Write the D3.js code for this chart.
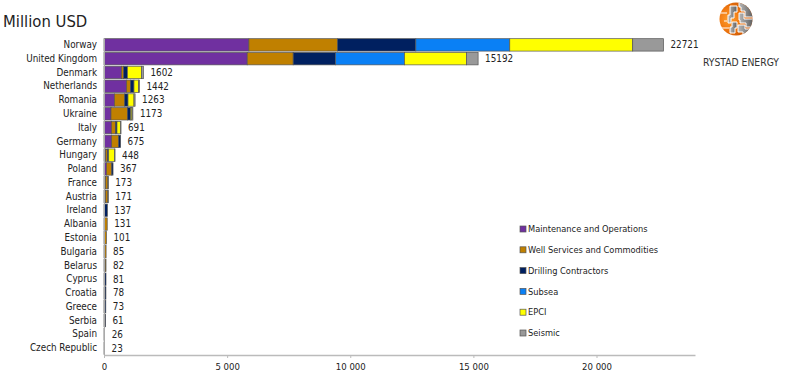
<!DOCTYPE html>
<html>
<head>
<meta charset="utf-8">
<script src="https://cdn.jsdelivr.net/npm/d3@7"></script>
<style>
  body { margin: 0; background: #fff; }
  svg { display: block; font-family: "DejaVu Sans Condensed", "DejaVu Sans", sans-serif; }
  svg text { font-family: "DejaVu Sans Condensed", "DejaVu Sans", sans-serif; }
</style>
</head>
<body>
<svg width="787" height="371"></svg>
<script>
"use strict";

// 국가 목록 (위에서 아래 순서)
const countries = ["Norway", "United Kingdom", "Denmark", "Netherlands", "Romania", "Ukraine",
  "Italy", "Germany", "Hungary", "Poland", "France", "Austria", "Ireland", "Albania", "Estonia",
  "Bulgaria", "Belarus", "Cyprus", "Croatia", "Greece", "Serbia", "Spain", "Czech Republic"];

const totals = [22721, 15192, 1602, 1442, 1263, 1173, 691, 675, 448, 367, 173, 171, 137, 131, 101,
  85, 82, 81, 78, 73, 61, 26, 23];

const segments = ["Maintenance and Operations", "Well Services and Commodities",
  "Drilling Contractors", "Subsea", "EPCI", "Seismic"];

// 세그먼트별 값
const maintenance = [5885, 5816, 706, 921, 422, 284, 300, 312, 70, 97, 60, 60, 20, 21, 21, 15, 50, 0, 40, 0, 0, 0, 0];
const wellServices = [3600, 1867, 93, 150, 418, 666, 162, 284, 68, 216, 100, 100, 0, 110, 80, 70, 32, 0, 0, 13, 40, 0, 0];
const drilling = [3178, 1720, 150, 146, 135, 135, 65, 79, 53, 54, 13, 11, 117, 0, 0, 0, 0, 81, 38, 60, 21, 0, 0];
const subsea = [3815, 2800, 0, 0, 0, 0, 0, 0, 0, 0, 0, 0, 0, 0, 0, 0, 0, 0, 0, 0, 0, 0, 0];
const epci = [4992, 2512, 569, 190, 243, 50, 150, 0, 243, 0, 0, 0, 0, 0, 0, 0, 0, 0, 0, 0, 0, 0, 0];
const seismic = [1251, 477, 84, 35, 45, 38, 14, 0, 14, 0, 0, 0, 0, 0, 0, 0, 0, 0, 0, 0, 0, 26, 23];

const xTicks = [0, 5000, 10000, 15000, 20000];
const colors = ["#7030a0", "#c08000", "#002060", "#0a80f5", "#ffff00", "#999999"];

const svg = d3.select("svg");

const x = d3.scaleLinear().domain([0, 24000]).range([104, 695]);
const y = d3.scaleBand().domain(countries).range([38, 355]).paddingInner(0.1).paddingOuter(0.05);

const rows = countries.map((c, i) => ({
  country: c,
  "Maintenance and Operations": maintenance[i],
  "Well Services and Commodities": wellServices[i],
  "Drilling Contractors": drilling[i],
  "Subsea": subsea[i],
  "EPCI": epci[i],
  "Seismic": seismic[i],
  total: totals[i]
}));

const stacked = d3.stack().keys(segments)(rows);

// 제목
svg.append("text")
  .attr("x", 3)
  .attr("y", 27)
  .style("font-size", "16.5px")
  .style("fill", "#222")
  .text("Million USD");

// 막대
svg.append("g")
  .selectAll("g")
  .data(stacked)
  .join("g")
  .attr("fill", (d, i) => colors[i])
  .selectAll("rect")
  .data(d => d.filter(p => p[1] - p[0] > 0))
  .join("rect")
  .attr("x", d => x(d[0]))
  .attr("y", d => y(d.data.country))
  .attr("width", d => x(d[1]) - x(d[0]))
  .attr("height", y.bandwidth())
  .attr("stroke", "#555")
  .attr("stroke-width", 0.7);

// 합계 라벨
svg.append("g")
  .selectAll("text")
  .data(rows)
  .join("text")
  .attr("x", d => x(d.total) + 7)
  .attr("y", d => y(d.country) + y.bandwidth() / 2)
  .attr("dy", "0.35em")
  .style("font-size", "9.8px")
  .style("fill", "#222")
  .text(d => d.total);

// 세로축 (국가)
const yAxis = svg.append("g")
  .attr("transform", "translate(104,0)")
  .call(d3.axisLeft(y).tickSize(0).tickPadding(7));
yAxis.select(".domain").attr("stroke", "#aaa");
yAxis.selectAll("text").style("font-size", "9.8px").style("fill", "#222");

// 가로축
const xAxis = svg.append("g")
  .attr("transform", "translate(0,355)")
  .call(d3.axisBottom(x).tickValues(xTicks).tickSize(3).tickSizeOuter(0).tickPadding(5)
    .tickFormat(d => d3.format(",")(d).replace(",", " ")));
xAxis.select(".domain").attr("stroke", "#bbb").attr("stroke-width", 1.5);
xAxis.selectAll("line").attr("stroke", "#bbb");
xAxis.selectAll("text").style("font-size", "9.5px").style("fill", "#222");

// 범례
const legend = svg.append("g")
  .selectAll("g")
  .data(segments)
  .join("g")
  .attr("transform", (d, i) => `translate(520,${229 + i * 20.8})`);
legend.append("rect")
  .attr("x", 0).attr("y", -3)
  .attr("width", 6).attr("height", 6)
  .attr("fill", (d, i) => colors[i])
  .attr("stroke", "#555").attr("stroke-width", 0.7);
legend.append("text")
  .attr("x", 8)
  .attr("dy", "0.35em")
  .style("font-size", "9.2px")
  .style("fill", "#222")
  .text(d => d);

// 로고 (대략적인 모양)
const defs = svg.append("defs");
const grad = defs.append("radialGradient").attr("id", "globe").attr("cx", "30%").attr("cy", "50%").attr("r", "75%");
grad.append("stop").attr("offset", "0%").attr("stop-color", "#ffa030");
grad.append("stop").attr("offset", "45%").attr("stop-color", "#f07810");
grad.append("stop").attr("offset", "100%").attr("stop-color", "#b84800");
const grayGrad = defs.append("linearGradient").attr("id", "globeGray").attr("x1", "0").attr("x2", "1");
grayGrad.append("stop").attr("offset", "0%").attr("stop-color", "#b8b8b8");
grayGrad.append("stop").attr("offset", "100%").attr("stop-color", "#5e5e5e");

const logo = svg.append("g").attr("transform", "translate(736,19)");
defs.append("clipPath").attr("id", "globeClip").append("circle").attr("r", 16.5);
logo.append("circle").attr("r", 16.5).attr("fill", "url(#globe)");
const lg = logo.append("g").attr("clip-path", "url(#globeClip)");
// 회색 블록 (흰 테두리)
lg.selectAll("path.blk")
  .data([
    "M-6,-13 L1,-13 L1,-7 L-2,-7 L-2,-1 L-5,-1 L-5,4 L-8,4 L-8,-4 L-6,-4 Z",
    "M-4,3 L1,3 L1,9 L-1,9 L-1,14 L-6,14 L-6,8 L-4,8 Z",
    "M3,-17 L17,-17 L17,-2 L9,-2 L9,-8 L5,-8 L5,-12 L3,-12 Z",
    "M3,-6 L8,-6 L8,0 L17,0 L17,8 L10,8 L10,4 L4,4 L4,1 L3,1 Z",
    "M2,6 L9,6 L9,10 L17,10 L17,18 L7,18 L7,13 L2,13 Z"
  ])
  .join("path")
  .attr("d", d => d)
  .attr("fill", "url(#globeGray)")
  .attr("stroke", "#fff")
  .attr("stroke-width", 1);
lg.selectAll("line.w")
  .data([[-17, -6, -9, -6], [-14, 9, -7, 9], [-12, 2, -9, 2]])
  .join("line")
  .attr("x1", d => d[0]).attr("y1", d => d[1]).attr("x2", d => d[2]).attr("y2", d => d[3])
  .attr("stroke", "#fff").attr("stroke-width", 1.2);

svg.append("text")
  .attr("x", 741)
  .attr("y", 66)
  .attr("text-anchor", "middle")
  .style("font-size", "10.3px")
  .style("fill", "#333")
  .text("RYSTAD ENERGY");
</script>
</body>
</html>
